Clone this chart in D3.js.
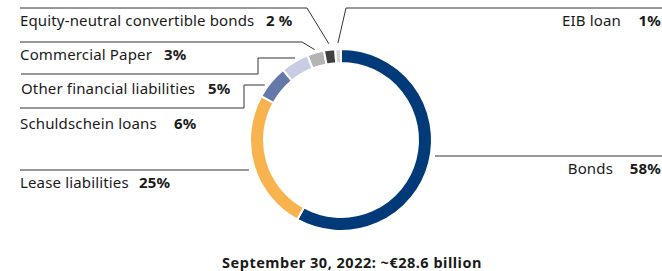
<!DOCTYPE html>
<html>
<head>
<meta charset="utf-8">
<script src="https://cdn.jsdelivr.net/npm/d3@7"></script>
<style>
  body { margin: 0; background: #fff; }
  svg { display: block; }
  text { font-family: "Noto Sans", "Open Sans", sans-serif; fill: #1a1a1a; }
  .lbl { font-size: 15px; letter-spacing: 0.15px; }
  .pct { font-size: 15px; font-weight: bold; letter-spacing: 0.15px; }
</style>
</head>
<body>
<svg id="chart" width="662" height="271"></svg>
<script>
// data
const categories = ["Bonds", "Lease liabilities", "Schuldschein loans", "Other financial liabilities",
  "Commercial Paper", "Equity-neutral convertible bonds", "EIB loan"];
const shares = [58, 25, 6, 5, 3, 2, 1];
const pctLabels = ["58%", "25%", "6%", "5%", "3%", "2 %", "1%"];
const colors = ["#003a78", "#f8b34f", "#6478a9", "#c8cde3", "#b4b4b4", "#404040", "#d3d3d3"];
const title = "September 30, 2022: ~€28.6 billion";

const width = 662, height = 271;
const cx = 341, cy = 140;
const rOuter = 91, rInner = 77;

const svg = d3.select("#chart");
const g = svg.append("g").attr("transform", `translate(${cx},${cy})`);

const pie = d3.pie().sort(null).value(d => d);
const arcs = pie(shares);
const arc = d3.arc().innerRadius(rInner).outerRadius(rOuter);

g.selectAll("path.slice")
  .data(arcs)
  .enter()
  .append("path")
  .attr("class", "slice")
  .attr("d", arc)
  .attr("fill", (d, i) => colors[i])
  .attr("stroke", "#fff")
  .attr("stroke-width", 2);

// point on a circle of radius r at angle a (pie angles, 0 = top)
const pt = (a, r) => [cx + r * Math.sin(a), cy - r * Math.cos(a)];
const midA = d => (d.startAngle + d.endAngle) / 2;
// x on circle of radius r at height y, left side
const leftX = (y, r) => cx - Math.sqrt(r * r - (y - cy) * (y - cy));

// label layout: line y, text x/baseline, pct x, anchor
const layout = [
  { lineY: 156, x0: 435, x1: 662, tx: 613, ty: 174, px: 661, anchor: "end" },            // Bonds
  { lineY: 170, x0: 20, x1: 249, tx: 20, ty: 188, px: 139, anchor: "start" },            // Lease
  { lineY: 108, x0: 20, x1: 244, tx: 20, ty: 129, px: 174, anchor: "start", stubY: 85 }, // Schuldschein
  { lineY: 74, x0: 21, x1: 258, tx: 21, ty: 94, px: 208, anchor: "start", stubY: 58 },   // Other
  { lineY: 42, x0: 20, x1: 302, tx: 20, ty: 60, px: 164, anchor: "start" },              // CP
  { lineY: 8, x0: 20, x1: 307, tx: 20, ty: 26, px: 266, anchor: "start" },               // Equity
  { lineY: 8, x0: 346, x1: 662, tx: 621, ty: 26, px: 661, anchor: "end" }                // EIB
];

const line = d3.line();
arcs.forEach((d, i) => {
  const L = layout[i];
  let pts;
  if (i === 0 || i === 1) {
    pts = [[L.x0, L.lineY], [L.x1, L.lineY]];
  } else if (L.stubY !== undefined) {
    const xe = leftX(L.stubY, rOuter + 3);
    pts = [[L.x0, L.lineY], [L.x1, L.lineY], [L.x1, L.stubY], [xe, L.stubY]];
  } else if (i === 6) {
    pts = [pt(midA(d), rOuter + 6), [L.x0, L.lineY], [L.x1, L.lineY]];
  } else {
    pts = [[L.x0, L.lineY], [L.x1, L.lineY], pt(midA(d), rOuter + (i === 4 ? 3 : 6))];
  }
  svg.append("path")
    .attr("d", line(pts))
    .attr("fill", "none")
    .attr("stroke", "#333")
    .attr("stroke-width", 1);

  svg.append("text")
    .attr("class", "lbl")
    .attr("x", L.tx)
    .attr("y", L.ty)
    .attr("text-anchor", L.anchor)
    .text(categories[i]);
  svg.append("text")
    .attr("class", "pct")
    .attr("x", L.px)
    .attr("y", L.ty)
    .attr("text-anchor", L.anchor)
    .text(pctLabels[i]);
});

svg.append("text")
  .attr("x", 352)
  .attr("y", 268)
  .attr("text-anchor", "middle")
  .attr("font-size", "14.5px")
  .attr("letter-spacing", "0.5px")
  .attr("font-weight", "bold")
  .text(title);
</script>
</body>
</html>
